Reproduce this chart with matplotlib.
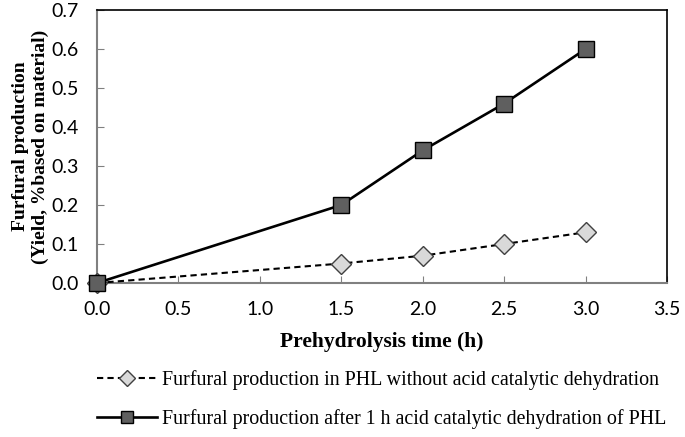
import numpy as np
import matplotlib.pyplot as plt

# prehydrolysis time (h) and furfural yields (%)
time_h = [0.0, 1.5, 2.0, 2.5, 3.0]
yield_no_acid = [0.0, 0.05, 0.07, 0.10, 0.13]
yield_acid = [0.0, 0.20, 0.34, 0.46, 0.60]

label_no_acid = 'Furfural production in PHL without acid catalytic dehydration'
label_acid = 'Furfural production after 1 h acid catalytic dehydration of PHL'

serif = ['Liberation Serif', 'DejaVu Serif']

fig = plt.figure(figsize=(6.85, 4.37), dpi=100)
ax = fig.add_axes([0.1416, 0.3524, 0.8321, 0.6246])

l1, = ax.plot(time_h, yield_no_acid, '--', color='black', lw=1.5,
              marker='D', ms=10.5, mfc='#d9d9d9', mec='#404040', mew=1.0,
              dashes=(3, 2), zorder=3, clip_on=False)
l2, = ax.plot(time_h, yield_acid, '-', color='black', lw=1.9,
              marker='s', ms=11, mfc='#5f5f5f', mec='black', mew=1.0,
              zorder=4, clip_on=False)

ax.set_xlim(0, 3.5)
ax.set_ylim(0, 0.7)
ax.set_xticks(np.arange(0, 3.51, 0.5))
ax.set_yticks(np.arange(0, 0.71, 0.1))
ax.set_xticklabels([f'{v:.1f}' for v in np.arange(0, 3.51, 0.5)])
ax.set_yticklabels([f'{v:.1f}' for v in np.arange(0, 0.71, 0.1)])
ax.tick_params(direction='in', length=5, color='#808080', labelsize=14)
ax.tick_params(axis='y', pad=13)
ax.tick_params(axis='x', pad=13)
for lab in ax.get_xticklabels() + ax.get_yticklabels():
    lab.set_family(['Lato', 'DejaVu Sans'])

ax.spines['left'].set_color('#808080')
ax.spines['bottom'].set_color('#808080')
ax.spines['left'].set_linewidth(1.5)
ax.spines['bottom'].set_linewidth(1.5)
ax.spines['top'].set_linewidth(1.2)
ax.spines['right'].set_linewidth(1.2)

ax.set_xlabel('Prehydrolysis time (h)', family=serif, fontweight='bold',
              fontsize=15.5, labelpad=10)
ax.set_ylabel('Furfural production\n(Yield, %based on material)', family=serif,
              fontweight='bold', fontsize=14, labelpad=2, linespacing=1.2)

fig.legend([l1, l2], [label_no_acid, label_acid], loc='upper left',
           bbox_to_anchor=(0.13, 0.172), frameon=False, ncol=1,
           prop={'family': serif, 'size': 14.4}, handlelength=3.0,
           handletextpad=0.25, labelspacing=0.95, borderaxespad=0,
           markerscale=0.75)

fig.savefig('out.png', dpi=100)
